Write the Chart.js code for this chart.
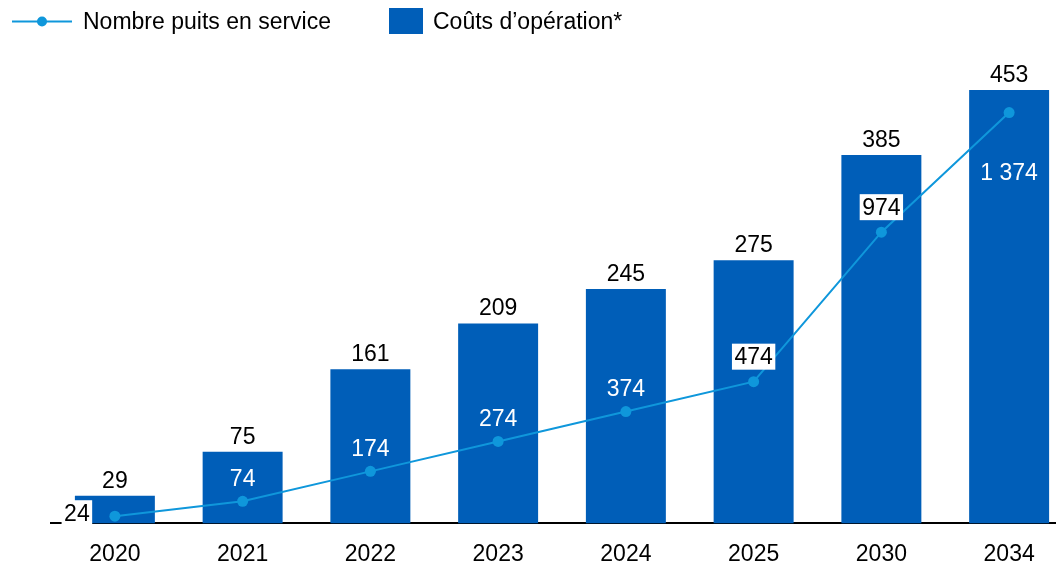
<!DOCTYPE html>
<html>
<head>
<meta charset="utf-8">
<script src="https://cdn.jsdelivr.net/npm/chart.js@4/dist/chart.umd.min.js"></script>
<style>
    body { margin: 0; overflow: hidden; background: #fff; }
    #wrap { position: relative; width: 1080px; height: 585px; }
</style>
</head>
<body>
<div id="wrap"><canvas id="c_puits"></canvas></div>
<script>
var years = ["2020", "2021", "2022", "2023", "2024", "2025", "2030", "2034"];
var couts = [29, 75, 161, 209, 245, 275, 385, 453];
var puits = [24, 74, 174, 274, 374, 474, 974, 1374];

// where each well-count label sits relative to its point
var puitsLabelPos = ["left", "above", "above", "above", "above", "boxed", "boxed", "below"];

var barColor = "#005eb8";
var lineColor = "#0f97db";
var fontFamily = "'Liberation Sans', Arial, sans-serif";

function fmt(v) {
    return String(v).replace(/\B(?=(\d{3})+(?!\d))/g, " ");
}

function boxText(ctx, text, x, y) {
    var w = ctx.measureText(text).width + 5;
    ctx.fillStyle = "#fff";
    ctx.fillRect(x - w / 2, y - 13, w, 26);
    ctx.fillStyle = "#000";
    ctx.fillText(text, x, y + 1);
}

var valueLabels = {
    id: "valueLabels",
    afterDatasetsDraw: function(chart) {
        var ctx = chart.ctx;
        ctx.save();
        ctx.font = "23px " + fontFamily;
        ctx.textAlign = "center";

        // costs above each bar
        chart.getDatasetMeta(1).data.forEach(function(bar, i) {
            ctx.fillStyle = "#000";
            ctx.textBaseline = "alphabetic";
            ctx.fillText(fmt(couts[i]), bar.x, bar.y - 8);
        });

        // well counts around the line points
        ctx.textBaseline = "middle";
        chart.getDatasetMeta(0).data.forEach(function(pt, i) {
            var t = fmt(puits[i]);
            var pos = puitsLabelPos[i];
            if (pos == "left") {
                boxText(ctx, t, pt.x - 38, pt.y - 3);
            } else if (pos == "boxed") {
                boxText(ctx, t, pt.x, pt.y - 25);
            } else if (pos == "below") {
                ctx.fillStyle = "#fff";
                ctx.fillText(t, pt.x, pt.y + 61);
            } else {
                ctx.fillStyle = "#fff";
                ctx.fillText(t, pt.x, pt.y - 22);
            }
        });
        ctx.restore();
    },
    afterDraw: function(chart) {
        var ctx = chart.ctx;
        ctx.save();
        // legend
        ctx.strokeStyle = lineColor;
        ctx.lineWidth = 2;
        ctx.beginPath();
        ctx.moveTo(12, 21.5);
        ctx.lineTo(72, 21.5);
        ctx.stroke();
        ctx.fillStyle = lineColor;
        ctx.beginPath();
        ctx.arc(42, 21.5, 5, 0, Math.PI * 2);
        ctx.fill();
        ctx.fillStyle = barColor;
        ctx.fillRect(389, 8, 34, 26);

        ctx.fillStyle = "#000";
        ctx.font = "23px " + fontFamily;
        ctx.textAlign = "left";
        ctx.textBaseline = "middle";
        ctx.fillText("Nombre puits en service", 83, 23);
        ctx.fillText("Coûts d’opération*", 433, 23);
        ctx.restore();
    }
};

var c_puits = document.getElementById("c_puits");

new Chart(c_puits, {
    type: "bar",
    data: {
        labels: years,
        datasets: [{
                type: "line",
                label: "Nombre puits en service",
                data: puits,
                yAxisID: "yPuits",
                borderColor: lineColor,
                backgroundColor: lineColor,
                borderWidth: 2,
                pointRadius: 5.5,
                pointBackgroundColor: lineColor,
                pointBorderWidth: 0,
                tension: 0,
                order: 0
            },
            {
                type: "bar",
                label: "Coûts d’opération*",
                data: couts,
                yAxisID: "yCouts",
                backgroundColor: barColor,
                categoryPercentage: 1,
                barPercentage: 0.626,
                order: 1
            }
        ]
    },
    options: {
        responsive: true,
        maintainAspectRatio: false,
        animation: false,
        layout: {
            padding: { left: 51, right: 7, top: 45, bottom: 0 }
        },
        plugins: {
            legend: { display: false },
            tooltip: { enabled: false }
        },
        scales: {
            x: {
                grid: { display: false, drawTicks: false },
                border: { display: true, color: "#000", width: 2 },
                ticks: {
                    color: "#000",
                    padding: 17,
                    font: { family: fontFamily, size: 23 }
                }
            },
            yCouts: {
                display: false,
                min: 0,
                max: 500
            },
            yPuits: {
                display: false,
                position: "right",
                min: 0,
                max: 1600
            }
        }
    },
    plugins: [valueLabels]
});
</script>
</body>
</html>
